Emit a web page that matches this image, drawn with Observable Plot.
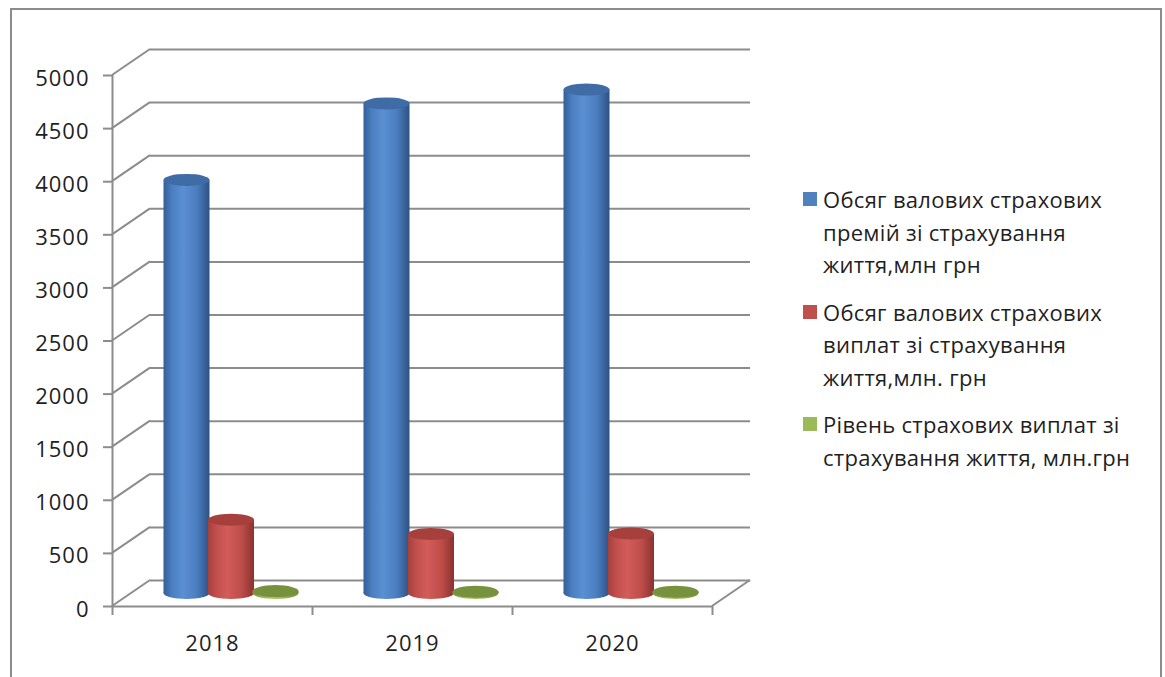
<!DOCTYPE html>
<html lang="uk">
<head>
<meta charset="utf-8">
<script src="https://cdn.jsdelivr.net/npm/d3@7"></script>
<script src="https://cdn.jsdelivr.net/npm/@observablehq/plot@0.6"></script>
<style>
  html, body { margin: 0; padding: 0; background: #fff; }
  #page { position: relative; width: 1165px; height: 677px; overflow: hidden;
          font-family: "Open Sans", Lato, sans-serif; color: #1f1f1f; }
  #frame { position: absolute; left: 10px; top: 8px; width: 1148px; height: 720px;
           border: 2px solid #8c8c8c; }
  #chart { position: absolute; left: 0; top: 0; }
  #legend { position: absolute; left: 803px; top: 183px; }
  .item { position: relative; padding-left: 20px; margin-bottom: 15px;
          font-size: 22px; letter-spacing: 0.3px; line-height: 32.5px; white-space: pre-line; }
  .swatch { position: absolute; left: 0; top: 9px; width: 14px; height: 14px; }
  #chart svg text { letter-spacing: 1px; }
</style>
</head>
<body>
<div id="page">
  <div id="frame"></div>
  <div id="chart"></div>
  <div id="legend"></div>
</div>
<script>
// Life insurance in Ukraine, 2018–2020
const years = ["2018", "2019", "2020"];
const premiums = [3890, 4610, 4740];     // gross premiums, mln UAH
const payouts = [690, 556, 560];         // gross payouts, mln UAH
const payoutLevel = [17.7, 12.1, 11.8];  // payout level
const seriesNames = [
  "Обсяг валових страхових\nпремій зі страхування\nжиття,млн грн",
  "Обсяг валових страхових\nвиплат зі страхування\nжиття,млн. грн",
  "Рівень страхових виплат зі\nстрахування життя, млн.грн"
];
const seriesColors = ["#4f81bd", "#c0504d", "#9bbb59"];
const yTicks = [0, 500, 1000, 1500, 2000, 2500, 3000, 3500, 4000, 4500, 5000];

const seriesValues = [premiums, payouts, payoutLevel];

// cylinder shading: side gradient stops and cap colour per series
const shading = [
  {id: "cyl-blue", stops: ["#335f97", "#4a7ec0", "#5a8fd3", "#4b7ebf", "#2d5284"], cap: "#3f6ca5"},
  {id: "cyl-red", stops: ["#a5403d", "#c24f4c", "#d35c59", "#bf4d4a", "#8b3230"], cap: "#a7403d"},
  {id: "cyl-green", stops: ["#7d9a42", "#94b354", "#a8c766", "#93b254", "#6f8a35"], cap: "#76923c"}
];

const gridColor = "#8c8c8c";
const textColor = "#1f1f1f";
const DEPTH_X = 38, DEPTH_Y = 26;            // back wall offset (px)
const MID_X = DEPTH_X / 2, MID_Y = DEPTH_Y / 2; // cylinders stand mid-depth
const STEP = 0.2225, HALF = 0.115;           // cylinder spacing / half width (x units)
const CAP_RY = 6, CAP_RX = 23;

const rows = years.flatMap((year, i) =>
  seriesValues.map((vals, k) => ({year, i, k, value: vals[i]})));

// gradient definitions
function gradients() {
  const g = d3.create("svg:g");
  const defs = g.append("defs");
  for (const s of shading) {
    const lg = defs.append("linearGradient").attr("id", s.id)
      .attr("x1", 0).attr("x2", 1).attr("y1", 0).attr("y2", 0);
    const offs = [0, 0.18, 0.42, 0.72, 1];
    s.stops.forEach((c, j) => lg.append("stop").attr("offset", offs[j]).attr("stop-color", c));
  }
  return g.node();
}

// receding edges joining the front plane to the back wall
function depthEdges(index, scales) {
  const g = d3.create("svg:g").attr("stroke", gridColor).attr("stroke-width", 2).attr("fill", "none");
  const x0 = scales.x(0), x3 = scales.x(3);
  for (const v of yTicks) {
    const y = scales.y(v);
    g.append("line").attr("x1", x0).attr("y1", y).attr("x2", x0 + DEPTH_X).attr("y2", y - DEPTH_Y);
  }
  const yb = scales.y(0);
  g.append("line").attr("x1", x3).attr("y1", yb).attr("x2", x3 + DEPTH_X).attr("y2", yb - DEPTH_Y);
  return g.node();
}

const cylinderMarks = shading.flatMap((s, k) => {
  const data = rows.filter(d => d.k === k);
  const x1 = d => d.i + 0.5 + (k - 1) * STEP - HALF;
  const x2 = d => d.i + 0.5 + (k - 1) * STEP + HALF;
  const common = {x1, x2, dx: MID_X, dy: -MID_Y};
  return [
    Plot.rect(data, {...common, y1: 0, y2: 0, insetTop: -CAP_RY, insetBottom: -CAP_RY,
      rx: CAP_RX, ry: CAP_RY, fill: `url(#${s.id})`}),
    Plot.rect(data, {...common, y1: 0, y2: "value", fill: `url(#${s.id})`}),
    Plot.rect(data, {...common, y1: "value", y2: "value", insetTop: -CAP_RY, insetBottom: -CAP_RY,
      rx: CAP_RX, ry: CAP_RY, fill: s.cap})
  ];
});

const chart = Plot.plot({
  width: 1165,
  height: 677,
  marginLeft: 112,
  marginRight: 453,
  marginTop: 75,
  marginBottom: 71,
  style: {fontFamily: "'Open Sans', Lato, sans-serif", fontSize: "22px", color: textColor, background: "transparent", overflow: "visible"},
  x: {domain: [0, 3], label: null},
  y: {domain: [0, 5000], label: null},
  marks: [
    gradients,
    Plot.ruleY(yTicks, {dx: DEPTH_X, dy: -DEPTH_Y, stroke: gridColor, strokeWidth: 2}),
    depthEdges,
    Plot.ruleY([0], {stroke: gridColor, strokeWidth: 2}),
    Plot.ruleX([0], {y1: 0, y2: 5000, stroke: gridColor, strokeWidth: 2}),
    Plot.axisY({ticks: yTicks, tickSize: 9, tickFormat: () => "", stroke: gridColor, strokeWidth: 2}),
    Plot.text(yTicks, {x: 0, y: d => d, text: d => String(d), textAnchor: "end",
      dx: -23, dy: 3, fill: textColor}),
    Plot.axisX({ticks: [0, 1, 2, 3], tickSize: 9, tickFormat: () => "",
      stroke: gridColor, strokeWidth: 2}),
    Plot.axisX({ticks: [0.5, 1.5, 2.5], tickSize: 0, tickPadding: 29,
      tickFormat: d => years[Math.floor(d)], fill: textColor}),
    ...cylinderMarks
  ]
});
document.getElementById("chart").append(chart);

// legend
const legend = d3.select("#legend");
seriesNames.forEach((name, k) => {
  const item = legend.append("div").attr("class", "item");
  item.append("div").attr("class", "swatch").style("background", seriesColors[k]);
  item.append("span").text(name);
});
</script>
</body>
</html>
